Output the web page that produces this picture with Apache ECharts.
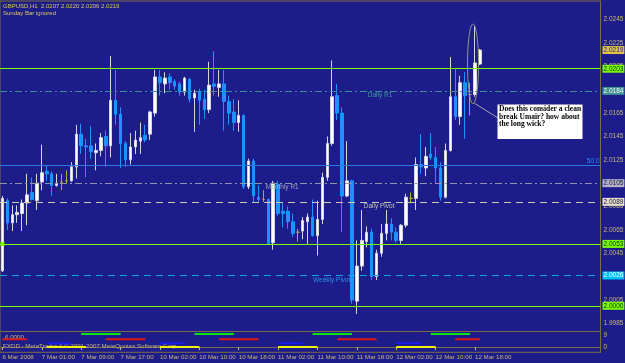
<!DOCTYPE html>
<html><head><meta charset="utf-8">
<script src="https://cdn.jsdelivr.net/npm/echarts@6/dist/echarts.min.js"></script>
<style>html,body{margin:0;padding:0;background:#1c1c8a;}#c{width:625px;height:363px;}</style>
</head><body><div id="c"></div>
<script>
// ---------- data ----------
const symbolName = 'GBPUSD,H1';
const infoText = 'Sunday Bar ignored';
const daySegments = [['6 Mar',17,23],['7 Mar',0,22],['10 Mar',0,23],['11 Mar',0,23],['12 Mar',0,19]];
const xTickLabels = ['6 Mar 2008','7 Mar 01:00','7 Mar 09:00','7 Mar 17:00','10 Mar 02:00','10 Mar 10:00','10 Mar 18:00','11 Mar 02:00','11 Mar 10:00','11 Mar 18:00','12 Mar 02:00','12 Mar 10:00','12 Mar 18:00'];
const yTickLabels = ['1.9985','2.0005','2.0025','2.0045','2.0065','2.0085','2.0105','2.0125','2.0145','2.0165','2.0185','2.0205','2.0225','2.0245'];

const opens  = [2.0030,2.0090,2.0071,2.0078,2.0079,2.0088,2.0097,2.0090,2.0106,2.0115,2.0113,2.0103,2.0106,2.0107,2.0107,2.0119,2.0147,2.0137,2.0137,2.0131,2.0133,2.0145,2.0137,2.0176,2.0164,2.0139,2.0125,2.0136,2.0141,2.0146,
                2.0147,2.0165,2.0196,2.0190,2.0196,2.0192,2.0190,2.0183,2.0194,2.0178,2.0183,2.0177,2.0168,2.0190,2.0187,2.0190,2.0175,2.0166,2.0157,2.0163,2.0102,2.0124,2.0093,2.0091,
                2.0091,2.0054,2.0104,2.0081,2.0081,2.0072,2.0063,2.0064,2.0072,2.0076,2.0060,2.0074,2.0110,2.0139,2.0180,2.0165,2.0094,2.0107,2.0004,2.0034,
                2.0055,2.0063,2.0025,2.0045,2.0062,2.0070,2.0063,2.0056,2.0069,2.0092,2.0092,2.0121,2.0118,2.0130,2.0127,2.0118,2.0093,2.0133,2.0179,2.0162,2.0191,2.0181,2.0181,2.0207];
const highs  = [2.0094,2.0092,2.0086,2.0086,2.0091,2.0113,2.0110,2.0113,2.0138,2.0120,2.0115,2.0113,2.0113,2.0116,2.0123,2.0155,2.0156,2.0143,2.0154,2.0139,2.0148,2.0150,2.0214,2.0202,2.0170,2.0141,2.0148,2.0150,2.0157,2.0155,
                2.0167,2.0202,2.0202,2.0200,2.0199,2.0194,2.0192,2.0196,2.0195,2.0185,2.0186,2.0185,2.0209,2.0218,2.0202,2.0202,2.0180,2.0177,2.0176,2.0164,2.0126,2.0126,2.0103,2.0099,
                2.0092,2.0107,2.0107,2.0088,2.0085,2.0079,2.0066,2.0076,2.0079,2.0091,2.0090,2.0114,2.0145,2.0210,2.0190,2.0170,2.0141,2.0108,2.0056,2.0082,
                2.0068,2.0066,2.0048,2.0070,2.0082,2.0075,2.0067,2.0070,2.0096,2.0097,2.0127,2.0147,2.0136,2.0148,2.0136,2.0123,2.0139,2.0213,2.0203,2.0197,2.0200,2.0191,2.0240,2.0220];
const lows   = [2.0029,2.0065,2.0064,2.0071,2.0064,2.0069,2.0090,2.0082,2.0099,2.0107,2.0094,2.0102,2.0099,2.0105,2.0106,2.0109,2.0130,2.0110,2.0126,2.0116,2.0128,2.0119,2.0127,2.0155,2.0118,2.0119,2.0121,2.0130,2.0130,2.0140,
                2.0142,2.0162,2.0180,2.0182,2.0185,2.0185,2.0180,2.0180,2.0174,2.0149,2.0155,2.0160,2.0165,2.0180,2.0179,2.0150,2.0155,2.0150,2.0149,2.0100,2.0100,2.0088,2.0088,2.0089,
                2.0052,2.0048,2.0077,2.0067,2.0066,2.0059,2.0055,2.0057,2.0053,2.0059,2.0043,2.0070,2.0107,2.0137,2.0159,2.0063,2.0093,2.0002,1.9993,2.0030,
                2.0050,2.0022,2.0022,2.0042,2.0056,2.0056,2.0054,2.0053,2.0067,2.0088,2.0082,2.0113,2.0111,2.0125,2.0105,2.0090,2.0092,2.0132,2.0159,2.0155,2.0143,2.0163,2.0179,2.0206];
const closes = [2.0092,2.0071,2.0078,2.0080,2.0088,2.0095,2.0091,2.0105,2.0114,2.0113,2.0103,2.0105,2.0106,2.0107,2.0119,2.0147,2.0137,2.0136,2.0132,2.0133,2.0144,2.0137,2.0176,2.0164,2.0139,2.0125,2.0136,2.0142,2.0144,2.0142,
                2.0166,2.0196,2.0191,2.0195,2.0191,2.0188,2.0183,2.0195,2.0177,2.0182,2.0176,2.0168,2.0189,2.0188,2.0190,2.0175,2.0165,2.0157,2.0163,2.0102,2.0124,2.0094,2.0091,2.0091,
                2.0053,2.0105,2.0079,2.0079,2.0072,2.0062,2.0063,2.0073,2.0076,2.0060,2.0074,2.0110,2.0139,2.0179,2.0165,2.0094,2.0107,2.0005,2.0034,2.0056,
                2.0063,2.0025,2.0045,2.0062,2.0070,2.0063,2.0056,2.0069,2.0093,2.0092,2.0121,2.0119,2.0128,2.0127,2.0118,2.0093,2.0133,2.0179,2.0162,2.0191,2.0180,2.0181,2.0208,2.0219];

// horizontal levels (price + name)
const levelPrices = [2.0203, 2.0184, 2.0120, 2.0105, 2.0089, 2.0053, 2.0026, 2.0000];
const levelNames  = ['', 'Daily R1', '50.0', 'Monthly R1', 'Daily Pivot', '', 'Weekly Pivot', ''];

// session indicator in the sub window: [firstBar, lastBar] ranges and level values
const sessionGreen  = [[16,24],[39,47],[63,71],[87,95]];
const sessionRed    = [[0,5],[21,29],[44,52],[68,76],[92,97]];
const sessionBlue   = [[9,14],[32,37],[56,61],[80,85]];
const sessionYellow = [[9,17],[32,40],[56,64],[80,88]];
const sessionLevels = [10, 6, 3, 0];   // green, red, blue, yellow
const subTickLabels = ['0','9'];
const indicatorValue = '6.0000';
const copyrightText = 'FXDD - MetaTrader 4 \u00a9 2001-2007 MetaQuotes Software Corp.';
const noteText = 'Does this consider a clean\nbreak Umair? how about\nthe long wick?';

// ---------- build ----------
const N_SLOTS = 122;
const categories = [];
daySegments.forEach(([d,h0,h1]) => { for (let h=h0; h<=h1; h++) categories.push(d + ' ' + String(h).padStart(2,'0') + ':00'); });
const nBars = categories.length;
while (categories.length < N_SLOTS) categories.push('slot' + categories.length);

const candleData = opens.map((o,i) => [o, closes[i], lows[i], highs[i]]);

function sessionData(ranges, level) {
  const d = new Array(N_SLOTS).fill(null);
  ranges.forEach(([s,e]) => { for (let i=s;i<=e;i++) d[i] = level; });
  return d;
}

const F = "'Liberation Sans',Arial,sans-serif";
const TAN = '#c8b878', OLIVE = '#7c6c44', BG = '#1c1c8a';
const LIME = '#7cfc00';

// styles per level (same order as levelPrices)
const levelStyle = [
  {color: LIME,      type: 'solid',   width: 1.2, box: [LIME, '#003000']},
  {color: '#3f9090', type: [7,3,2,3], width: 1,   box: ['#3f9090', '#ffffff'], text: '#3f9a9a', bar: 74, dx: 1,   dy: 4.5},
  {color: '#2a78e6', type: 'solid',   width: 1.2, fib: '#2a8cff'},
  {color: '#9494a8', type: [7,3,2,3], width: 1,   box: ['#b4b4c4', '#101040'], text: '#a4a4b4', bar: 53, dx: 2.5, dy: 4},
  {color: '#cfc7b0', type: [7,5],     width: 1,   box: ['#e8e0c8', '#101040'], text: '#c4c0b4', bar: 73, dx: 2,   dy: 4.5},
  {color: LIME,      type: 'solid',   width: 1.2, box: [LIME, '#003000']},
  {color: '#14a4e4', type: [7,5],     width: 1,   box: ['#00bfff', '#ffffff'], text: '#2a90e8', bar: 63, dx: 0.5, dy: 5},
  {color: LIME,      type: 'solid',   width: 1.2, box: [LIME, '#003000']}
];

function boxLabel(bg, fg) {
  return {show: true, position: 'end', distance: 2, formatter: p => Number(p.value).toFixed(4),
          backgroundColor: bg, color: fg, padding: [0,1,0,1], fontSize: 6.5, lineHeight: 8, fontFamily: F};
}

const markLineData = levelPrices.map((p, k) => {
  const s = levelStyle[k];
  const item = {yAxis: p, lineStyle: {color: s.color, type: s.type, width: s.width}};
  if (s.box) item.label = boxLabel(s.box[0], s.box[1]);
  else item.label = {show: true, position: 'insideEndTop', distance: 1, formatter: levelNames[k], color: s.fib, fontSize: 6.5, fontFamily: F};
  return item;
});
// current price box (no line)
const last = nBars - 1;
markLineData.push({yAxis: closes[last], lineStyle: {color: 'rgba(0,0,0,0)', width: 0}, label: boxLabel('#e0c440', '#1c1c8a')});

const markPointData = [];
levelPrices.forEach((p, k) => {
  const s = levelStyle[k];
  if (s.text && levelNames[k]) {
    markPointData.push({coord: [s.bar, p], symbol: 'circle', symbolSize: 0,
      label: {show: true, position: 'right', distance: 0, offset: [s.dx, s.dy], formatter: levelNames[k],
              color: s.text, fontSize: 6.5, fontFamily: F}});
  }
});
markPointData.push({coord: [0, levelPrices[5]], symbol: 'rect', symbolSize: 4, itemStyle: {color: LIME}, label: {show: false}});

const sessColors = ['#10e010', '#e01818', '#1818f0', '#f0f000'];
const sessRanges = [sessionGreen, sessionRed, sessionBlue, sessionYellow];
const sessSeries = sessRanges.map((r, k) => ({
  type: 'line', xAxisIndex: 1, yAxisIndex: 1, data: sessionData(r, sessionLevels[k]),
  symbol: 'none', connectNulls: false, silent: true, z: 3,
  lineStyle: {color: sessColors[k], width: 2}
}));

const isTick = i => i % 8 === 0 && i < nBars;

const chart = echarts.init(document.getElementById('c'), null, {renderer: 'canvas'});
chart.setOption({
  animation: false,
  backgroundColor: BG,
  grid: [
    {left: 0, right: 24.5, top: 1, bottom: 31.5, show: true, borderColor: OLIVE, borderWidth: 1, outerBoundsMode: 'none'},
    {left: 0, right: 24.5, top: 331.5, height: 20.8, show: true, borderColor: OLIVE, borderWidth: 1, outerBoundsMode: 'none'}
  ],
  xAxis: [
    {type: 'category', gridIndex: 0, data: categories, boundaryGap: true, show: false},
    {type: 'category', gridIndex: 1, data: categories, boundaryGap: true,
     axisLine: {show: true, lineStyle: {color: OLIVE}},
     axisTick: {show: true, alignWithLabel: true, interval: isTick, length: 3, lineStyle: {color: TAN}},
     axisLabel: {interval: isTick, formatter: (v, i) => xTickLabels[i / 8] || '', align: 'left', margin: 2,
                 color: TAN, fontSize: 6.2, fontFamily: F},
     splitLine: {show: false}}
  ],
  yAxis: [
    {type: 'value', gridIndex: 0, position: 'right', min: 1.9978, max: 2.0261, interval: 0.0001,
     splitLine: {show: false}, axisTick: {show: false},
     axisLine: {show: true, lineStyle: {color: OLIVE}},
     axisLabel: {margin: 3, color: TAN, fontSize: 6.5, fontFamily: F,
                 formatter: v => { const t = Number(v).toFixed(4); return yTickLabels.includes(t) ? t : ''; }}},
    {type: 'value', gridIndex: 1, position: 'right', min: -4, max: 12, interval: 1,
     splitLine: {show: false}, axisTick: {show: false},
     axisLine: {show: true, lineStyle: {color: OLIVE}},
     axisLabel: {margin: 3, color: TAN, fontSize: 6.5, fontFamily: F,
                 formatter: v => { const t = String(Math.round(v)); return subTickLabels.includes(t) ? t : ''; }}}
  ],
  series: [
    {type: 'candlestick', name: symbolName, xAxisIndex: 0, yAxisIndex: 0, data: candleData, barWidth: 3,
     itemStyle: {color: '#ffffff', color0: '#1e90ff', borderColor: '#d4d4de', borderColor0: '#1e90ff',
                 borderColorDoji: '#b8a828', borderWidth: 1},
     markLine: {silent: true, precision: 4, symbol: ['none','none'], data: markLineData},
     markPoint: {silent: true, precision: 4, data: markPointData}
    },
    ...sessSeries
  ],
  graphic: [
    {id: 'title1', type: 'text', left: 3, top: 3, z: 5, style: {text: symbolName + '  ' + [opens[last], highs[last], lows[last], closes[last]].map(v => v.toFixed(4)).join(' '),
      fill: '#d8c860', fontSize: 6, fontFamily: F}},
    {id: 'title2', type: 'text', left: 3, top: 10, z: 5, style: {text: infoText, fill: '#d8c860', fontSize: 6, fontFamily: F}},
    {id: 'indval', type: 'text', left: 5, top: 334.5, z: 1, style: {text: indicatorValue, fill: TAN, fontSize: 6.2, fontFamily: F}},
    {id: 'copy', type: 'text', left: 3, top: 343.5, z: 1, style: {text: copyrightText, fill: TAN, fontSize: 6.2, fontFamily: F}}
  ]
});

// annotation: ellipse round the long-wick bars, leader line, note box
const pA = chart.convertToPixel({gridIndex: 0}, [last - 2, highs[last - 1]]);
const pB = chart.convertToPixel({gridIndex: 0}, [last - 1, lows[last - 1] - 0.0006]);
const cx = (pA[0] + pB[0]) / 2 + 0.5, topY = pA[1] - 1.5, botY = pB[1];
chart.setOption({
  graphic: [
    {id: 'ell', type: 'ellipse', z: 10, silent: true, shape: {cx: cx, cy: (topY + botY) / 2, rx: 5.5, ry: (botY - topY) / 2},
     style: {fill: 'none', stroke: '#8c9c84', lineWidth: 1}},
    {id: 'lead', type: 'line', z: 10, silent: true, shape: {x1: cx + 1.5, y1: botY - 0.5, x2: 498, y2: 118}, style: {stroke: '#a8a8a8', lineWidth: 1}},
    {id: 'box', type: 'rect', z: 10, silent: true, shape: {x: 497.5, y: 104.5, width: 85, height: 34.5}, style: {fill: '#ffffff'}},
    {id: 'note', type: 'text', z: 11, silent: true, x: 499, y: 105,
     style: {text: noteText, fill: '#000000', fontSize: 7.5, fontWeight: 'bold', fontFamily: "'Liberation Serif','Times New Roman',serif", lineHeight: 7.8}}
  ]
});
</script>
</body></html>
